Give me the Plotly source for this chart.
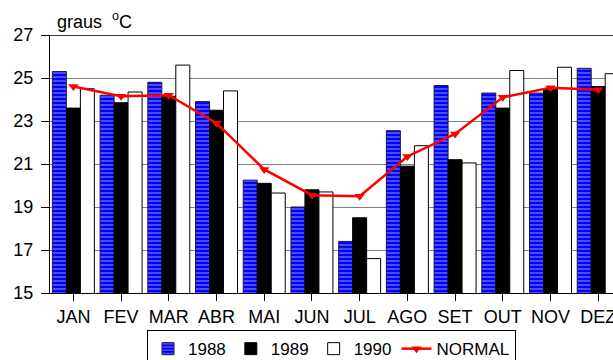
import plotly.graph_objects as go

meses = ["JAN", "FEV", "MAR", "ABR", "MAI", "JUN", "JUL", "AGO", "SET", "OUT", "NOV", "DEZ"]
t1988 = [25.3, 24.2, 24.8, 23.9, 20.25, 19.0, 17.4, 22.55, 24.65, 24.3, 24.3, 25.45]
t1989 = [23.6, 23.85, 24.15, 23.5, 20.1, 19.8, 18.5, 20.9, 21.2, 23.6, 24.5, 24.6]
t1990 = [24.5, 24.35, 25.6, 24.4, 19.65, 19.7, 16.6, 21.85, 21.05, 25.35, 25.5, 25.2]
normal = [24.6, 24.15, 24.2, 22.9, 20.75, 19.55, 19.5, 21.35, 22.4, 24.1, 24.55, 24.45]
y_ticks = [15, 17, 19, 21, 23, 25, 27]

FONT = "Arial, Liberation Sans, sans-serif"

fig = go.Figure()
fig.add_trace(go.Bar(
    x=meses, y=t1988, name="1988",
    marker=dict(color="#0000ff", line=dict(color="#1a1a40", width=1),
                pattern=dict(shape="-", fgcolor="white", bgcolor="#0000ff",
                             size=4, solidity=0.3, fillmode="overlay")),
))
fig.add_trace(go.Bar(
    x=meses, y=t1989, name="1989",
    marker=dict(color="black", line=dict(color="black", width=1)),
))
fig.add_trace(go.Bar(
    x=meses, y=t1990, name="1990",
    marker=dict(color="white", line=dict(color="black", width=1)),
))
fig.add_trace(go.Scatter(
    x=meses, y=normal, name="NORMAL", mode="lines+markers",
    line=dict(color="#ff0000", width=2.5),
    marker=dict(symbol="triangle-down", size=9, color="#ff0000"),
))

fig.update_layout(
    width=613, height=360,
    margin=dict(l=50, r=0, t=35, b=67, autoexpand=False),
    paper_bgcolor="white", plot_bgcolor="white",
    font=dict(family=FONT, size=18, color="black"),
    barmode="group", bargap=0.12, bargroupgap=0,
    showlegend=True,
    legend=dict(orientation="h", x=0.5, xanchor="center",
                yref="container", y=0.083, yanchor="top",
                bordercolor="black", borderwidth=1, bgcolor="white",
                font=dict(size=17), itemwidth=30,
                tracegroupgap=0, traceorder="normal"),
    xaxis=dict(range=[-0.49, 11.31], showline=True, linecolor="black", linewidth=1,
               ticks="outside", ticklen=7, tickcolor="black", showgrid=False,
               tickfont=dict(size=18)),
    yaxis=dict(range=[15, 27], tickvals=y_ticks, showline=True, linecolor="black",
               linewidth=1, ticks="outside", ticklen=8, tickcolor="black",
               showgrid=True, gridcolor="#808080", gridwidth=1, zeroline=False,
               ticklabelstandoff=4, tickfont=dict(size=18)),
    shapes=[dict(type="line", xref="paper", yref="y", x0=0, x1=1, y0=27, y1=27,
                 line=dict(color="black", width=1.5))],
    annotations=[dict(text="graus&nbsp;&nbsp;<sup>o</sup>C", xref="paper", yref="paper",
                      x=0.008, y=1.055, xanchor="left", yanchor="middle",
                      showarrow=False, font=dict(size=18))],
)

fig.write_html("out.html")
